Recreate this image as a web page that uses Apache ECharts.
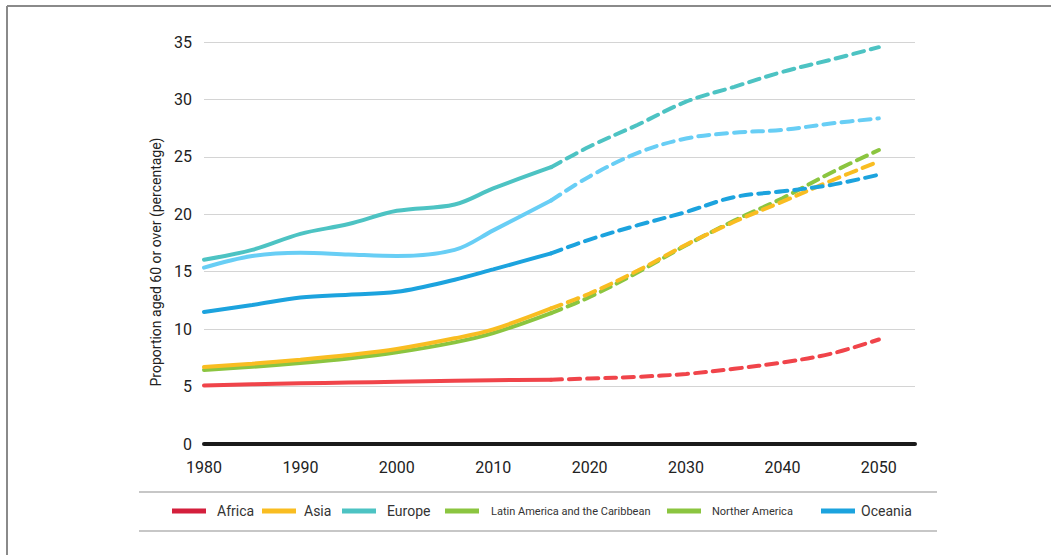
<!DOCTYPE html>
<html><head><meta charset="utf-8">
<script src="https://cdn.jsdelivr.net/npm/echarts@6/dist/echarts.min.js"></script>
<style>html,body{margin:0;padding:0;background:#fff}#c{width:1051px;height:555px}</style>
</head><body><div id="c"></div>
<script>
// ---- data ----
const regions = ['Africa', 'Asia', 'Europe', 'Latin America and the Caribbean', 'Norther America', 'Oceania'];
const solidYears = [1980, 1985, 1990, 1995, 2000, 2006, 2010, 2016];
const projYears = [2016, 2020, 2025, 2030, 2035, 2040, 2045, 2050];
const africaSolid = [5.1, 5.2, 5.28, 5.35, 5.42, 5.5, 5.55, 5.6];
const africaProj = [5.6, 5.7, 5.85, 6.1, 6.55, 7.1, 7.85, 9.1];
const asiaSolid = [6.7, 6.99, 7.34, 7.75, 8.27, 9.2, 9.98, 11.8];
const asiaProj = [11.8, 13.1, 15.1, 17.35, 19.35, 21.1, 22.9, 24.6];
const europeSolid = [16.05, 16.9, 18.3, 19.15, 20.3, 20.85, 22.25, 24.1];
const europeProj = [24.1, 25.9, 27.8, 29.8, 31.1, 32.4, 33.45, 34.55];
const latinSolid = [6.45, 6.72, 7.05, 7.45, 7.98, 8.85, 9.65, 11.4];
const latinProj = [11.4, 12.8, 14.95, 17.3, 19.45, 21.4, 23.6, 25.6];
const northAmSolid = [15.35, 16.37, 16.65, 16.5, 16.37, 16.9, 18.6, 21.2];
const northAmProj = [21.2, 23.3, 25.35, 26.6, 27.1, 27.35, 27.9, 28.35];
const oceaniaSolid = [11.5, 12.1, 12.75, 13.0, 13.25, 14.3, 15.2, 16.6];
const oceaniaProj = [16.6, 17.8, 19.05, 20.2, 21.5, 22.0, 22.55, 23.45];
const xTicks = [1980, 1990, 2000, 2010, 2020, 2030, 2040, 2050];
const yTicks = [0, 5, 10, 15, 20, 25, 30, 35];
const yAxisTitle = 'Proportion aged 60 or over (percentage)';

// ---- styles ----
const lineColors = ['#F0444A', '#F9BD21', '#4DC3C3', '#8BC540', '#68CEF5', '#1CA3DE'];
const legendColors = ['#D41F3C', '#F9BD21', '#4DC3C3', '#8BC540', '#8BC540', '#1CA3DE'];
const legendLeft = [172, 262, 342, 445, 667, 821];
const legendTextPad = [6, 3, 6, 7, 6, 1];
const legendFont = [14, 14, 14, 11, 11, 14];
const solids = [africaSolid, asiaSolid, europeSolid, latinSolid, northAmSolid, oceaniaSolid];
const projs = [africaProj, asiaProj, europeProj, latinProj, northAmProj, oceaniaProj];
const drawOrder = [0, 3, 1, 5, 4, 2];

const series = [];
drawOrder.forEach(i => {
  series.push({
    name: regions[i], type: 'line', smooth: 0.35, symbol: 'none',
    data: solidYears.map((y, k) => [y, solids[i][k]]),
    lineStyle: { color: lineColors[i], width: 4, cap: 'round' },
    itemStyle: { color: lineColors[i] }, z: 3
  });
  series.push({
    name: regions[i], type: 'line', smooth: 0.35, symbol: 'none',
    data: projYears.map((y, k) => [y, projs[i][k]]),
    lineStyle: { color: lineColors[i], width: 4, type: [11, 7], cap: 'round' },
    itemStyle: { color: lineColors[i] }, z: 3
  });
});

const legends = regions.map((r, i) => ({
  left: legendLeft[i], top: 503, padding: 0, itemWidth: 34, itemHeight: 5, icon: 'rect',
  selectedMode: false,
  data: [{ name: r, itemStyle: { color: legendColors[i] } }],
  textStyle: { fontFamily: 'Roboto', fontSize: legendFont[i], color: '#333', lineHeight: 16, padding: [0, 0, 0, legendTextPad[i]] }
}));

const chart = echarts.init(document.getElementById('c'), null, { renderer: 'svg' });
chart.setOption({
  backgroundColor: '#fff',
  animation: false,
  textStyle: { fontFamily: 'Roboto' },
  grid: { left: 204, right: 136, top: 42, bottom: 111, containLabel: false },
  xAxis: {
    type: 'value', min: 1980, max: 2053.75, interval: 10,
    axisLine: { show: true, onZero: false, lineStyle: { color: '#1a1a1a', width: 4 } },
    axisTick: { show: false }, splitLine: { show: false },
    axisLabel: {
      margin: 15, fontSize: 16, color: '#222', showMaxLabel: false,
      formatter: v => (xTicks.indexOf(v) >= 0 ? String(v) : '')
    }
  },
  yAxis: {
    type: 'value', min: 0, max: 35, interval: 5,
    axisLine: { show: false }, axisTick: { show: false },
    splitLine: { lineStyle: { color: '#d4d4d4', width: 1 } },
    axisLabel: { margin: 12, fontSize: 16, color: '#222', formatter: v => (yTicks.indexOf(v) >= 0 ? String(v) : '') }
  },
  legend: legends,
  series: series,
  graphic: [
    { type: 'line', shape: { x1: 7, y1: 6, x2: 1051, y2: 6 }, style: { stroke: '#8a8a8a', lineWidth: 2 } },
    { type: 'line', shape: { x1: 7, y1: 6, x2: 7, y2: 555 }, style: { stroke: '#8a8a8a', lineWidth: 2 } },
    { type: 'line', shape: { x1: 139, y1: 492, x2: 937, y2: 492 }, style: { stroke: '#b5b5b5', lineWidth: 1.5 } },
    { type: 'line', shape: { x1: 139, y1: 531, x2: 937, y2: 531 }, style: { stroke: '#b5b5b5', lineWidth: 1.5 } },
    { type: 'text', x: 156, y: 262, rotation: Math.PI / 2,
      style: { text: yAxisTitle, fontFamily: 'Roboto', fontSize: 14, fill: '#222', textAlign: 'center', textVerticalAlign: 'middle' } }
  ]
});
</script></body></html>
